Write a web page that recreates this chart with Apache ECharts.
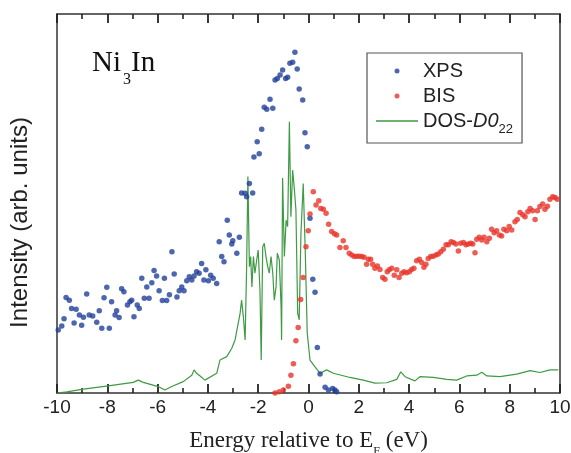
<!DOCTYPE html>
<html>
<head>
<meta charset="utf-8">
<script src="https://cdn.jsdelivr.net/npm/echarts@6/dist/echarts.min.js"></script>
<style>
html,body{margin:0;padding:0;background:#fff;}
#chart{width:571px;height:453px;}
</style>
</head>
<body>
<div id="chart"></div>
<script>
// ---- data ----
const xTicks = [-10, -8, -6, -4, -2, 0, 2, 4, 6, 8, 10];

const xpsEnergy = [-9.95,-9.81,-9.72,-9.64,-9.51,-9.42,-9.32,-9.24,-9.11,-9.02,
  -8.95,-8.82,-8.72,-8.58,-8.42,-8.32,-8.22,-8.13,-8.02,-7.92,
  -7.83,-7.69,-7.63,-7.53,-7.43,-7.34,-7.20,-7.10,-7.03,-6.94,
  -6.81,-6.73,-6.63,-6.53,-6.43,-6.34,-6.23,-6.14,-6.04,-5.94,
  -5.81,-5.73,-5.64,-5.53,-5.43,-5.34,-5.23,-5.14,-5.04,-4.95,
  -4.84,-4.74,-4.64,-4.55,-4.45,-4.35,-4.25,-4.16,-4.08,-3.98,
  -3.89,-3.79,-3.65,-3.55,-3.45,-3.36,-3.23,-3.15,-3.05,-3.01,
  -2.85,-2.75,-2.66,-2.52,-2.46,-2.35,-2.22,-2.17,-2.04,-1.96,
  -1.86,-1.76,-1.66,-1.53,-1.42,-1.33,-1.24,-1.13,-1.03,-0.91,
  -0.83,-0.74,-0.63,-0.54,-0.45,-0.37,-0.23,-0.14,-0.05,0.06,
  0.17,0.26,0.35,0.46,0.66,0.79,0.96,1.05,1.12];
const xpsIntensity = [16.6,17.7,19.6,25.2,24.5,22.3,18.5,22.1,20.6,17.9,
  20.0,26.1,20.6,20.3,18.7,21.7,17.1,25.1,27.9,17.1,
  24.1,20.6,21.7,19.9,27.5,26.7,23.2,24.1,24.5,20.1,
  23.2,22.3,30.3,25.0,28.0,25.0,29.1,32.3,30.9,27.0,
  24.4,30.3,24.4,25.9,37.3,31.4,25.3,27.0,28.0,27.0,
  29.6,30.7,29.8,30.9,32.0,31.6,34.2,29.8,32.5,29.6,
  31.1,30.3,28.9,39.9,36.0,34.6,45.6,41.7,39.3,40.2,
  36.9,41.1,52.8,52.7,51.8,55.3,52.8,62.3,66.3,63.1,
  69.6,75.4,74.9,77.5,75.1,82.6,83.0,83.9,85.2,83.0,
  83.3,87.0,87.3,89.9,85.5,80.2,77.3,68.7,65.0,46.1,
  30.0,26.6,12.0,5.0,1.5,0.8,1.2,0.8,0.3];

const bisEnergy = [-1.33,-1.16,-1.00,-0.80,-0.70,-0.60,-0.50,-0.41,-0.31,-0.21,
  -0.10,-0.01,0.06,0.19,0.30,0.41,0.49,0.59,0.70,0.80,
  0.92,1.03,1.12,1.25,1.38,1.49,1.62,1.72,1.82,1.92,
  2.02,2.12,2.21,2.31,2.38,2.47,2.55,2.64,2.74,2.84,
  2.95,3.04,3.13,3.21,3.31,3.41,3.51,3.60,3.71,3.80,
  3.90,4.01,4.10,4.19,4.30,4.41,4.50,4.59,4.67,4.76,
  4.86,4.96,5.07,5.16,5.26,5.36,5.47,5.56,5.67,5.76,
  5.86,5.96,6.05,6.16,6.26,6.35,6.45,6.53,6.62,6.69,
  6.79,6.89,6.98,7.09,7.19,7.28,7.38,7.48,7.59,7.68,
  7.77,7.88,7.98,8.08,8.21,8.30,8.41,8.52,8.61,8.72,
  8.81,8.91,9.01,9.10,9.20,9.31,9.40,9.50,9.60,9.71,9.80,9.89];
const bisIntensity = [0,0.3,0.8,1.8,4.7,7.7,13.8,17.3,24.7,30.5,
  38.6,42.8,47.2,53.1,49.6,50.7,48.7,48.5,47.4,44.5,
  42.6,42.0,41.7,38.4,40.2,38.4,36.9,36.4,36.0,36.1,
  36.1,36.0,35.8,34.0,35.3,35.3,34.0,32.9,33.5,32.6,
  30.5,30.0,32.0,32.5,32.9,31.1,32.5,30.5,31.6,32.0,
  31.7,32.0,32.6,32.9,34.9,35.3,34.4,33.2,34.0,35.5,
  36.0,36.1,36.4,36.7,37.3,37.9,39.1,39.1,39.9,39.7,
  39.3,37.5,39.5,39.7,39.1,39.3,39.5,39.3,37.0,40.6,
  41.1,40.4,41.1,39.9,40.8,43.2,42.3,42.8,41.7,41.4,
  43.2,42.8,43.9,43.0,45.2,45.8,47.6,47.0,46.5,47.8,
  48.7,48.1,45.8,48.1,49.2,49.9,48.5,49.3,51.1,51.8,51.6,51.1];

const dosEnergy = [-9.99,-9.61,-8.95,-7.96,-6.97,-6.77,-6.57,-5.97,-5.71,-5.44,
  -4.98,-4.64,-4.55,-4.45,-4.31,-4.12,-3.65,-3.52,-3.25,-3.05,
  -2.99,-2.92,-2.85,-2.72,-2.66,-2.59,-2.52,-2.46,-2.41,-2.35,
  -2.30,-2.25,-2.19,-2.13,-2.06,-2.00,-1.93,-1.88,-1.82,-1.76,
  -1.69,-1.62,-1.56,-1.49,-1.42,-1.36,-1.29,-1.24,-1.16,-1.09,
  -1.07,-1.03,-0.96,-0.89,-0.83,-0.76,-0.70,-0.63,-0.56,-0.50,
  -0.43,-0.37,-0.30,-0.21,-0.13,-0.05,0.06,0.26,0.46,0.72,
  0.99,1.65,2.18,2.64,3.11,3.51,3.67,3.84,4.23,4.43,
  4.96,5.50,5.89,6.29,6.69,6.89,7.09,7.61,8.28,8.81,9.20,9.60,9.93];
const dosValue = [0,0.3,1.0,1.9,2.8,3.4,2.8,1.7,0.8,1.7,
  3.0,4.7,6.1,5.2,4.5,3.4,5.2,8.7,9.6,11.8,
  11.3,14.0,14.0,21.0,24.5,20.1,14.0,33.3,57.1,33.3,
  36.0,28.0,36.0,31.6,35.1,37.7,27.2,8.7,38.6,39.5,
  36.0,33.3,31.6,36.0,31.6,24.5,28.0,36.9,35.1,22.8,
  14.0,56.7,36.0,45.6,43.9,71.6,46.5,58.8,53.6,48.3,
  21.0,19.3,42.1,55.3,37.7,15.8,8.7,6.9,5.2,6.1,
  5.2,4.1,3.4,2.6,2.7,3.6,5.6,4.3,3.2,4.3,
  4.1,3.6,3.4,4.5,4.7,5.5,4.5,4.3,5.0,5.9,5.4,6.1,6.1];

// ---- build ----
const zip = (a, b) => a.map((v, i) => [v, b[i]]);
const frameColor = '#333333';
const sans = '"Liberation Sans", Arial, sans-serif';
const serif = '"Liberation Serif", "Times New Roman", serif';

const chart = echarts.init(document.getElementById('chart'), null, {renderer: 'canvas'});
function xAxisOpt(pos, showLabels) {
  return {
    type: 'value', position: pos,
    min: xTicks[0], max: xTicks[xTicks.length - 1], interval: 2,
    axisLine: {show: true, onZero: false, lineStyle: {color: frameColor, width: 1.5}},
    axisTick: {show: true, inside: true, length: 9, lineStyle: {color: '#222', width: 1.8}},
    minorTick: {show: true, splitNumber: 2, length: 5, lineStyle: {color: '#222', width: 1.6}},
    splitLine: {show: false}, minorSplitLine: {show: false},
    axisLabel: {show: showLabels, margin: 5, fontFamily: sans, fontSize: 19, color: '#222'}
  };
}
function yAxisOpt(pos) {
  return {
    type: 'value', position: pos, min: 0, max: 100,
    axisLine: {show: true, onZero: false, lineStyle: {color: frameColor, width: 1.5}},
    axisTick: {show: false}, axisLabel: {show: false}, splitLine: {show: false}
  };
}

const xBottom = xAxisOpt('bottom', true);
xBottom.name = '{n|Energy relative to E}{s|F}{n| (eV)}';
xBottom.nameLocation = 'middle';
xBottom.nameGap = 31;
xBottom.nameTextStyle = {
  rich: {
    n: {fontFamily: serif, fontSize: 23, color: '#222', lineHeight: 26},
    s: {fontFamily: serif, fontSize: 12, color: '#222', lineHeight: 34, verticalAlign: 'bottom'}
  }
};
const yLeft = yAxisOpt('left');
yLeft.name = 'Intensity (arb. units)';
yLeft.nameLocation = 'middle';
yLeft.nameGap = 25;
yLeft.nameRotate = 90;
yLeft.nameTextStyle = {fontFamily: sans, fontSize: 24, color: '#222', padding: [0, 38, 0, 0]};

chart.setOption({
  animation: false,
  backgroundColor: '#fff',
  grid: {left: 57, right: 11, top: 14, bottom: 60, containLabel: false, outerBoundsMode: 'none'},
  xAxis: [xBottom, xAxisOpt('top', false)],
  yAxis: [yLeft, yAxisOpt('right')],
  legend: {
    orient: 'vertical', left: 367, top: 53,
    padding: [8, 9, 7, 9], itemGap: 5, itemWidth: 42, itemHeight: 5,
    borderColor: '#555', borderWidth: 1.2, backgroundColor: '#fff',
    textStyle: {
      fontFamily: sans, fontSize: 20, color: '#222',
      rich: {
        n: {fontFamily: sans, fontSize: 20, color: '#222', lineHeight: 20},
        i: {fontFamily: sans, fontSize: 20, color: '#222', fontStyle: 'italic', lineHeight: 20},
        s: {fontFamily: sans, fontSize: 13, color: '#222', lineHeight: 30, verticalAlign: 'bottom'}
      }
    },
    formatter: function (name) {
      if (name === 'DOS-D022') return '{n|DOS-}{i|D0}{s|22}';
      return '{n|' + name + '}';
    },
    data: [
      {name: 'XPS', icon: 'circle'},
      {name: 'BIS', icon: 'circle'},
      {name: 'DOS-D022', icon: 'path://M0,0L42,0L42,1.4L0,1.4Z'}
    ]
  },
  graphic: [
    {type: 'text', left: 92, top: 49, style: {text: 'Ni', font: '29px ' + serif, fill: '#111'}},
    {type: 'text', left: 123, top: 72, style: {text: '3', font: '16px ' + serif, fill: '#111'}},
    {type: 'text', left: 131, top: 49, style: {text: 'In', font: '29px ' + serif, fill: '#111'}}
  ],
  series: [
    {
      name: 'DOS-D022', type: 'line', data: zip(dosEnergy, dosValue),
      symbol: 'none', showSymbol: false, lineStyle: {color: '#3e9a43', width: 1.2}, itemStyle: {color: '#3e9a43'},
      z: 2
    },
    {
      name: 'XPS', type: 'scatter', data: zip(xpsEnergy, xpsIntensity),
      symbol: 'circle', symbolSize: 5.5, itemStyle: {color: '#21409a'}, z: 3
    },
    {
      name: 'BIS', type: 'scatter', data: zip(bisEnergy, bisIntensity),
      symbol: 'circle', symbolSize: 5.5, itemStyle: {color: '#e8352b'}, z: 3
    }
  ]
});
</script>
</body>
</html>
